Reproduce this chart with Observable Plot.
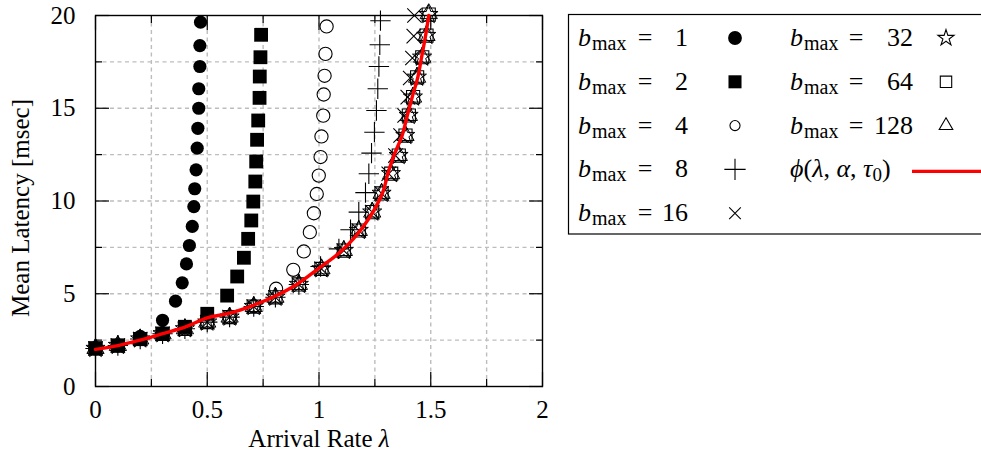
<!DOCTYPE html>
<html><head><meta charset="utf-8">
<script src="https://cdn.jsdelivr.net/npm/d3@7"></script>
<script src="https://cdn.jsdelivr.net/npm/@observablehq/plot@0.6"></script>
<style>
body{margin:0;background:#fff;}
#wrap{position:relative;width:981px;height:455px;overflow:hidden;background:#fff;}
#wrap > svg{position:absolute;left:0;top:0;}
</style></head>
<body><div id="wrap"></div>
<script>
// ---- data ----
const xTicks = [0, 0.5, 1, 1.5, 2];
const yTicks = [0, 5, 10, 15, 20];
const xLabel = "Arrival Rate λ";
const yLabel = "Mean Latency [msec]";

const lambda1  = [0,0.1,0.2,0.3,0.358,0.388,0.407,0.42,0.433,0.44,0.444,0.45,0.455,0.458,0.462,0.462,0.467,0.467,0.47];
const latency1 = [2.05,2.2,2.7,3.57,4.6,5.59,6.61,7.6,8.63,9.7,10.66,11.68,12.85,13.92,15.0,16.05,17.25,18.38,19.64];

const lambda2  = [0,0.1,0.2,0.3,0.4,0.5,0.589,0.634,0.664,0.683,0.697,0.706,0.715,0.719,0.723,0.728,0.734,0.735,0.738,0.741];
const latency2 = [2.05,2.2,2.55,2.85,3.22,3.92,4.9,5.93,6.94,7.96,8.95,9.97,11.05,12.13,13.3,14.34,15.56,16.71,17.75,18.96];

const lambda4  = [0,0.1,0.2,0.3,0.4,0.5,0.6,0.708,0.808,0.885,0.932,0.959,0.977,0.99,0.999,1.007,1.011,1.019,1.021,1.025,1.029,1.034];
const latency4 = [2.05,2.21,2.56,2.84,3.11,3.47,3.74,4.33,5.27,6.29,7.28,8.32,9.34,10.38,11.37,12.37,13.48,14.6,15.74,16.75,17.93,19.41];

const lambda8  = [0,0.1,0.2,0.3,0.4,0.5,0.6,0.708,0.805,0.91,1.007,1.089,1.141,1.178,1.208,1.223,1.235,1.248,1.257,1.263,1.268,1.272,1.275];
const latency8 = [2.05,2.21,2.56,2.84,3.11,3.47,3.74,4.31,4.81,5.5,6.47,7.42,8.45,9.4,10.45,11.47,12.58,13.71,14.88,16.05,17.25,18.42,19.72];

const lambda16  = [0,0.1,0.2,0.3,0.4,0.5,0.6,0.708,0.805,0.91,1.011,1.111,1.178,1.238,1.28,1.312,1.342,1.365,1.383,1.397,1.408,1.418,1.424,1.427];
const latency16 = [2.05,2.21,2.56,2.84,3.11,3.47,3.74,4.31,4.81,5.5,6.34,7.33,8.41,9.4,10.41,11.47,12.45,13.53,14.61,15.6,16.63,17.71,18.89,20.0];

const lambda32  = [0,0.1,0.2,0.3,0.4,0.5,0.6,0.708,0.805,0.91,1.011,1.111,1.178,1.238,1.28,1.322,1.356,1.386,1.401,1.42,1.438,1.461,1.48,1.49];
const latency32 = [2.05,2.21,2.56,2.84,3.11,3.47,3.74,4.31,4.81,5.5,6.34,7.33,8.41,9.4,10.41,11.47,12.45,13.53,14.61,15.6,16.67,17.75,18.92,20.05];

const lambda64  = [0,0.1,0.2,0.3,0.4,0.5,0.6,0.708,0.805,0.91,1.011,1.111,1.178,1.238,1.28,1.323,1.357,1.387,1.402,1.421,1.439,1.462,1.481,1.491];
const latency64 = [2.05,2.21,2.56,2.84,3.11,3.47,3.74,4.31,4.81,5.5,6.34,7.33,8.41,9.4,10.41,11.47,12.45,13.53,14.61,15.6,16.67,17.75,18.92,20.05];

const lambda128  = [0,0.1,0.2,0.3,0.4,0.5,0.6,0.708,0.805,0.91,1.011,1.111,1.178,1.238,1.28,1.323,1.357,1.387,1.402,1.421,1.439,1.462,1.481,1.491];
const latency128 = [2.05,2.21,2.56,2.84,3.11,3.47,3.74,4.31,4.81,5.5,6.34,7.33,8.41,9.4,10.41,11.47,12.45,13.53,14.61,15.6,16.67,17.75,18.92,20.1];

const lambdaPhi  = [0,0.1,0.2,0.3,0.4,0.5,0.6,0.7,0.8,0.9,1.0,1.1,1.2,1.283,1.308,1.335,1.372,1.395,1.417,1.442,1.459,1.477,1.491];
const latencyPhi = [2.0,2.2,2.5,2.85,3.2,3.7,3.95,4.35,4.85,5.5,6.38,7.3,8.65,10.39,11.47,12.45,13.53,14.6,15.6,16.67,17.75,18.92,20.0];

const legendLeft  = ["1","2","4","8","16"];
const legendRight = ["32","64","128"];

// ---- build tables ----
const rows = (xs, ys) => xs.map((x, i) => ({x, y: ys[i]}));

const FONT = "'Liberation Serif', 'DejaVu Serif', serif";
const GRID = {stroke: "#bdbdbd", strokeOpacity: 1, strokeWidth: 1.4, strokeDasharray: "4,3.5"};
const gx = d3.range(0.25, 2, 0.25);
const gy = d3.range(2.5, 20, 2.5);
const xMinor = [0.25, 0.75, 1.25, 1.75];
const yMinor = [2.5, 7.5, 12.5, 17.5];
const blank = () => "";
const plain = d => `${d}`;

const chart = Plot.plot({
  width: 981, height: 455,
  marginLeft: 95, marginRight: 439, marginTop: 15, marginBottom: 69,
  x: {domain: [0, 2]},
  y: {domain: [0, 20]},
  style: {fontFamily: FONT, fontSize: "25px", background: "transparent", color: "black"},
  marks: [
    Plot.gridX(gx, GRID),
    Plot.gridY(gy, GRID),
    Plot.axisX({ticks: xTicks, tickSize: 0, tickPadding: 14, tickFormat: plain, label: null}),
    Plot.axisY({ticks: yTicks, tickSize: 0, tickPadding: 20, tickFormat: plain, label: null}),
    Plot.axisX({ticks: xTicks, tickSize: -14, tickFormat: blank, label: null, strokeWidth: 1.2}),
    Plot.axisX({ticks: xMinor, tickSize: -7, tickFormat: blank, label: null, strokeWidth: 1.2}),
    Plot.axisX({anchor: "top", ticks: xTicks, tickSize: -14, tickFormat: blank, label: null, strokeWidth: 1.2}),
    Plot.axisX({anchor: "top", ticks: xMinor, tickSize: -7, tickFormat: blank, label: null, strokeWidth: 1.2}),
    Plot.axisY({ticks: yTicks, tickSize: -14, tickFormat: blank, label: null, strokeWidth: 1.2}),
    Plot.axisY({ticks: yMinor, tickSize: -7, tickFormat: blank, label: null, strokeWidth: 1.2}),
    Plot.axisY({anchor: "right", ticks: yTicks, tickSize: -14, tickFormat: blank, label: null, strokeWidth: 1.2}),
    Plot.axisY({anchor: "right", ticks: yMinor, tickSize: -7, tickFormat: blank, label: null, strokeWidth: 1.2}),
    Plot.frame({stroke: "black", strokeWidth: 1.4}),
    Plot.text([xLabel], {frameAnchor: "bottom", dy: 52, text: d => d, fontSize: 25, lineAnchor: "middle"}),
    Plot.text([yLabel], {frameAnchor: "left", dx: -75, dy: 7, rotate: -90, text: d => d, fontSize: 25, lineAnchor: "middle", textAnchor: "middle"}),
    Plot.dot(rows(lambda1, latency1), {x: "x", y: "y", symbol: "circle", fill: "black", r: 6.6}),
    Plot.dot(rows(lambda2, latency2), {x: "x", y: "y", symbol: "square", fill: "black", r: 7.8}),
    Plot.dot(rows(lambda4, latency4), {x: "x", y: "y", symbol: "circle", fill: "none", stroke: "black", strokeWidth: 1.1, r: 6.6}),
    Plot.dot(rows(lambda8, latency8), {x: "x", y: "y", symbol: "plus", stroke: "black", strokeWidth: 1.1, r: 6.6}),
    Plot.dot(rows(lambda16, latency16), {x: "x", y: "y", symbol: "times", stroke: "black", strokeWidth: 1.1, r: 6.6}),
    Plot.dot(rows(lambda32, latency32), {x: "x", y: "y", symbol: "star", fill: "none", stroke: "black", strokeWidth: 1, r: 6}),
    Plot.dot(rows(lambda64, latency64), {x: "x", y: "y", symbol: "square", fill: "none", stroke: "black", strokeWidth: 1.1, r: 7.4}),
    Plot.dot(rows(lambda128, latency128), {x: "x", y: "y", symbol: "triangle", fill: "none", stroke: "black", strokeWidth: 1, r: 6.4}),
    Plot.line(rows(lambdaPhi, latencyPhi), {x: "x", y: "y", stroke: "#ff0000", strokeWidth: 3.4, curve: "catmull-rom"})
  ]
});
document.getElementById("wrap").appendChild(chart);

// italic lambda in x label
d3.select(chart).selectAll("text").each(function() {
  const t = d3.select(this);
  if (t.text() === xLabel) {
    t.text(null);
    t.append("tspan").text("Arrival Rate ");
    t.append("tspan").attr("font-style", "italic").text("λ");
  }
});

// ---- legend (drawn as SVG text + symbols) ----
const leg = d3.select("#wrap").append("svg")
  .attr("width", 981).attr("height", 455)
  .style("font-family", FONT).style("font-size", "26px");
leg.append("rect").attr("x", 568.5).attr("y", 14.5).attr("width", 430).attr("height", 219.5)
  .attr("fill", "white").attr("stroke", "black").attr("stroke-width", 1.2);

const rowY = i => 38 + i * 43.8;
function label(x0, xEq, xNum, y, num) {
  const t = leg.append("text").attr("x", x0).attr("y", y + 8);
  t.append("tspan").attr("font-style", "italic").text("b");
  t.append("tspan").attr("dy", 4).attr("font-size", 20).attr("dx", 1).text("max");
  leg.append("text").attr("x", xEq).attr("y", y + 8).attr("text-anchor", "middle").text("=");
  leg.append("text").attr("x", xNum).attr("y", y + 8).attr("text-anchor", "end").text(num);
}
const symLeft = [
  {type: d3.symbolCircle, size: 150, fill: "black"},
  {type: d3.symbolSquare, size: 170, fill: "black"},
  {type: d3.symbolCircle, size: 80, fill: "none"},
  {type: d3.symbolPlus, size: 150, fill: "none"},
  {type: d3.symbolTimes, size: 90, fill: "none"}
];
const symRight = [
  {type: d3.symbolStar, size: 80, fill: "none"},
  {type: d3.symbolSquare, size: 130, fill: "none"},
  {type: d3.symbolTriangle, size: 80, fill: "none"}
];
legendLeft.forEach((n, i) => {
  label(578, 645, 688, rowY(i), n);
  const s = symLeft[i];
  leg.append("path").attr("d", d3.symbol(s.type, s.size)())
    .attr("transform", `translate(735,${rowY(i)})`)
    .attr("fill", s.fill).attr("stroke", s.fill === "none" ? "black" : "none").attr("stroke-width", 1.1);
});
legendRight.forEach((n, i) => {
  label(790, 856, 913, rowY(i), n);
  const s = symRight[i];
  leg.append("path").attr("d", d3.symbol(s.type, s.size)())
    .attr("transform", `translate(946,${rowY(i)})`)
    .attr("fill", s.fill).attr("stroke", "black").attr("stroke-width", 1.1);
});
// phi entry
const pt = leg.append("text").attr("x", 790).attr("y", rowY(3) + 8).attr("font-style", "italic");
pt.append("tspan").text("ϕ");
pt.append("tspan").attr("font-style", "normal").text("(");
pt.append("tspan").text("λ");
pt.append("tspan").attr("font-style", "normal").text(", ");
pt.append("tspan").text("α");
pt.append("tspan").attr("font-style", "normal").text(", ");
pt.append("tspan").text("τ");
pt.append("tspan").attr("font-style", "normal").attr("font-size", 19).attr("dy", 4).text("0");
pt.append("tspan").attr("font-style", "normal").attr("dy", -4).text(")");
leg.append("line").attr("x1", 912).attr("x2", 981).attr("y1", rowY(3) + 2).attr("y2", rowY(3) + 2)
  .attr("stroke", "#ff0000").attr("stroke-width", 3.4);
</script>
</body></html>
